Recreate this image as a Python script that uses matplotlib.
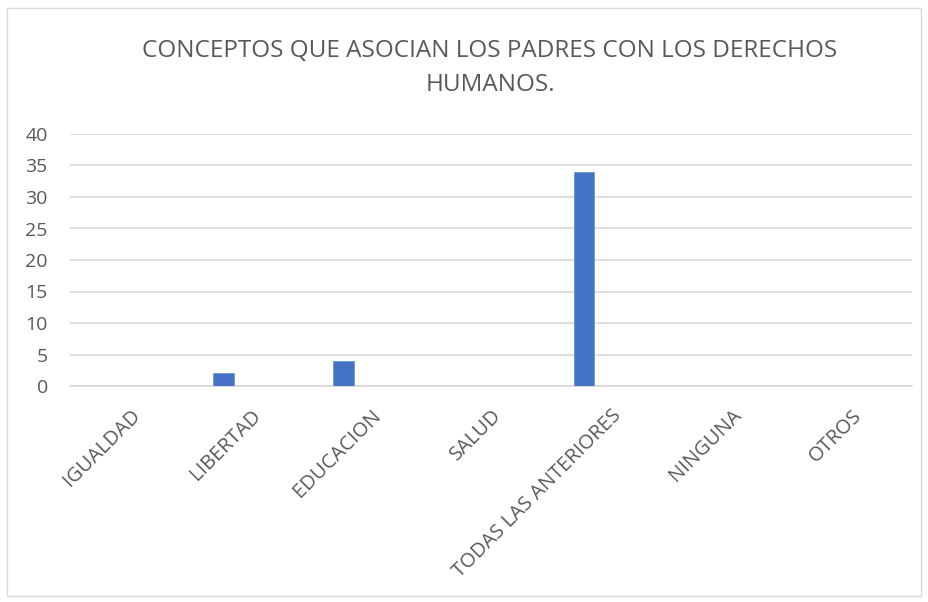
import matplotlib
matplotlib.use("Agg")
import matplotlib.pyplot as plt
from matplotlib.patches import Rectangle
import matplotlib.transforms as mtransforms
import numpy as np

categories = ["IGUALDAD", "LIBERTAD", "EDUCACION", "SALUD",
              "TODAS LAS ANTERIORES", "NINGUNA", "OTROS"]
values = [0, 2, 4, 0, 34, 0, 0]
yticks = [0, 5, 10, 15, 20, 25, 30, 35, 40]
title = "CONCEPTOS QUE ASOCIAN LOS PADRES CON LOS DERECHOS\nHUMANOS."

plt.rcParams['font.family'] = ['Open Sans', 'DejaVu Sans']
W, H = 929, 602
fig = plt.figure(figsize=(W/100, H/100), dpi=100)
fig.patch.set_facecolor("white")
fig.add_artist(Rectangle((7/W, 1-596/H), (921-7)/W, (596-8)/H,
                         transform=fig.transFigure, fill=False,
                         edgecolor="#d9d9d9", linewidth=1))

left, right, top, bottom = 70, 912, 134, 386
ax = fig.add_axes([left/W, 1-bottom/H, (right-left)/W, (bottom-top)/H])
x = np.arange(len(categories))
ax.bar(x - 0.225, values, width=0.17, color="#4472C4", edgecolor="#6F93D6", linewidth=0.6, zorder=3)
ax.set_xlim(-0.5, len(categories)-0.5)
ax.set_ylim(0, 40)
ax.set_yticks(yticks)
ax.set_yticklabels([str(v) for v in yticks], fontsize=14, color="#595959")
ax.yaxis.grid(True, color="#d9d9d9", linewidth=1.2, zorder=0)
ax.set_xticks(x)
ax.set_xticklabels(categories, rotation=45, ha="right", rotation_mode="anchor",
                   fontsize=14.5, color="#595959")
offset = mtransforms.ScaledTranslation(-4/100, 0, fig.dpi_scale_trans)
for lbl in ax.get_xticklabels():
    lbl.set_transform(lbl.get_transform() + offset)
for s in ["top", "right", "left"]:
    ax.spines[s].set_visible(False)
ax.spines["bottom"].set_color("#d9d9d9")
ax.spines["bottom"].set_linewidth(1.2)
ax.tick_params(axis="both", length=0)
ax.tick_params(axis="y", pad=16)
ax.tick_params(axis="x", pad=14)

fig.text(490/W, 1-68/H, title, ha="center", va="center", fontsize=17.5,
         color="#595959", linespacing=1.55)

fig.savefig("out.png", dpi=100, facecolor="white")
